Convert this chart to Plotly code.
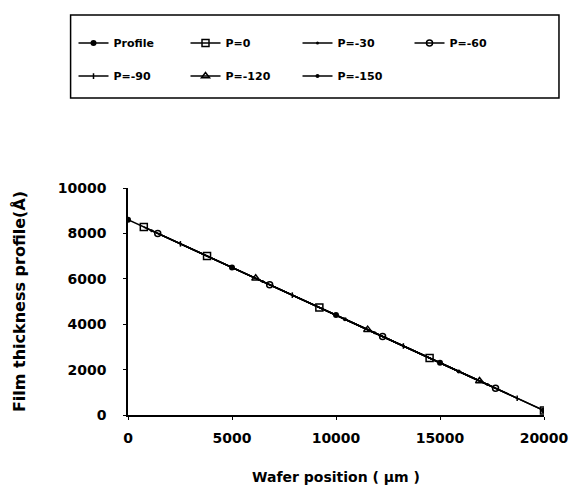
import plotly.graph_objects as go

# Data (wafer position in µm, film thickness in Å)
profile_x = [0, 5000, 10000, 15000, 20000]
profile_y = [8600, 6500, 4400, 2300, 200]
p0_x = [760, 3800, 9200, 14500, 20000]
p0_y = [8280, 7000, 4740, 2510, 200]
p30_x = [1140, 6480, 11860, 17290]
p30_y = [8120, 5880, 3620, 1340]
p60_x = [1430, 6810, 12240, 17670]
p60_y = [8000, 5740, 3460, 1180]
p90_x = [2520, 7900, 13240, 18710]
p90_y = [7540, 5280, 3040, 740]
p120_x = [6140, 11520, 16900]
p120_y = [6020, 3760, 1500]
p150_x = [10430, 15900]
p150_y = [4220, 1920]

x_ticks = [0, 5000, 10000, 15000, 20000]
y_ticks = [0, 2000, 4000, 6000, 8000, 10000]

series = [
    ("Profile", profile_x, profile_y, dict(symbol="circle", size=6, color="black"), "legend"),
    ("P=0", p0_x, p0_y, dict(symbol="square-open", size=7, color="black", line=dict(width=1.5)), "legend"),
    ("P=-30", p30_x, p30_y, dict(symbol="circle", size=3, color="black"), "legend"),
    ("P=-60", p60_x, p60_y, dict(symbol="circle-open", size=6, color="black", line=dict(width=1.5)), "legend"),
    ("P=-90", p90_x, p90_y, dict(symbol="line-ns", size=4, color="black", line=dict(width=1.5, color="black")), "legend2"),
    ("P=-120", p120_x, p120_y, dict(symbol="triangle-up-open", size=7, color="black", line=dict(width=1.5)), "legend2"),
    ("P=-150", p150_x, p150_y, dict(symbol="circle", size=4, color="black"), "legend2"),
]

fig = go.Figure()
for name, xs, ys, mk, lg in series:
    fig.add_trace(go.Scatter(
        x=xs, y=ys, name=name, mode="lines+markers", legend=lg,
        line=dict(color="black", width=1.5), marker=mk,
    ))

font_family = "DejaVu Sans"
legend_common = dict(
    orientation="h", xanchor="left", yanchor="middle",
    bgcolor="rgba(0,0,0,0)", borderwidth=0,
    font=dict(family=font_family, size=11, color="black", weight="bold"),
    entrywidth=67, entrywidthmode="pixels", itemwidth=30,
)

fig.update_layout(
    width=581, height=498,
    margin=dict(l=128, r=33, t=188, b=83),
    paper_bgcolor="white", plot_bgcolor="white",
    font=dict(family=font_family, size=14, color="black"),
    showlegend=True,
    legend=dict(x=-0.131, y=1.639, **legend_common),
    legend2=dict(x=-0.131, y=1.493, **legend_common),
    shapes=[dict(
        type="rect", xref="paper", yref="paper",
        x0=-0.138, x1=1.036, y0=1.396, y1=1.762,
        line=dict(color="black", width=1.5), fillcolor="rgba(0,0,0,0)",
    )],
    xaxis=dict(
        range=[0, 20000], tickvals=x_ticks, ticktext=[str(v) for v in x_ticks],
        showgrid=False, zeroline=False, showline=True, linecolor="black", linewidth=1.5,
        ticks="outside", ticklen=3, tickcolor="black", ticklabelstandoff=6,
        tickfont=dict(family=font_family, size=14, weight="bold"),
        title=dict(text="Wafer position ( μm )", font=dict(family=font_family, size=14, weight="bold"), standoff=28),
    ),
    yaxis=dict(
        range=[0, 10000], tickvals=y_ticks, ticktext=[str(v) for v in y_ticks],
        showgrid=False, zeroline=False, showline=True, linecolor="black", linewidth=1.5,
        ticks="outside", ticklen=3, tickcolor="black", ticklabelstandoff=14,
        tickfont=dict(family=font_family, size=14, weight="bold"),
        title=dict(text="Film thickness profile(Å)", font=dict(family=font_family, size=16, weight="bold"), standoff=28),
    ),
)

fig.write_html("out.html")
